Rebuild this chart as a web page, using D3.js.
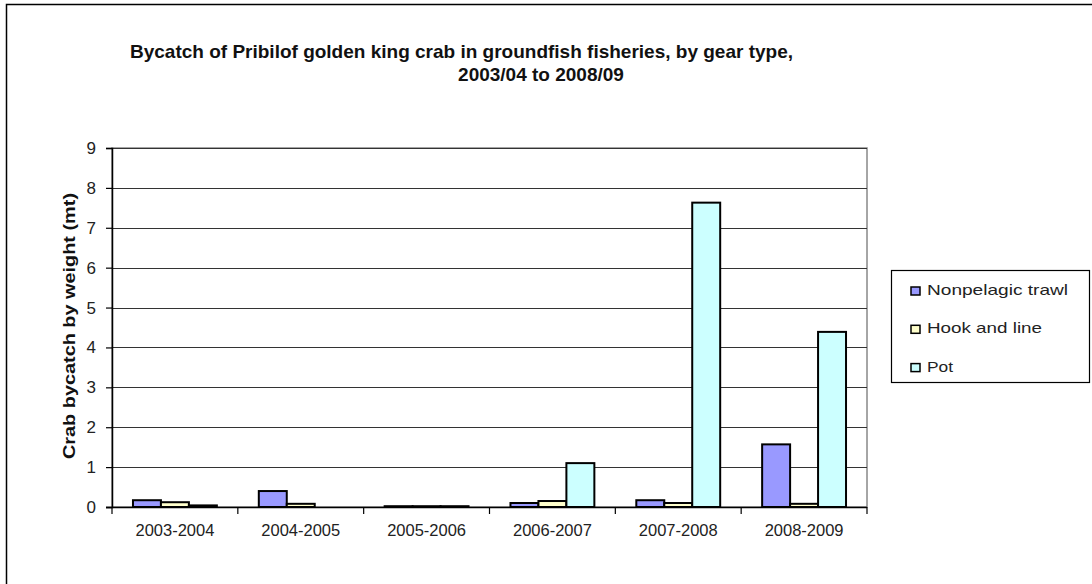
<!DOCTYPE html>
<html>
<head>
<meta charset="utf-8">
<script src="https://cdn.jsdelivr.net/npm/d3@7"></script>
<style>
  body { margin: 0; background: #fff; }
  text { font-family: Arial, "Liberation Sans", sans-serif; }
</style>
</head>
<body>
<script>
// data
var seasons = ["2003-2004", "2004-2005", "2005-2006", "2006-2007", "2007-2008", "2008-2009"];
var gears = ["Nonpelagic trawl", "Hook and line", "Pot"];
var trawl = [0.17, 0.40, 0.02, 0.10, 0.17, 1.57];
var hookLine = [0.12, 0.08, 0.02, 0.15, 0.10, 0.08];
var pot = [0.04, 0.00, 0.02, 1.10, 7.63, 4.39];
var yTicks = [0, 1, 2, 3, 4, 5, 6, 7, 8, 9];
var colors = ["#9999ff", "#ffffcc", "#ccffff"];

var W = 1092, H = 584;
var plot = {left: 112, right: 867, top: 148, bottom: 507};

var svg = d3.select("body").append("svg")
    .attr("width", W)
    .attr("height", H);

// outer chart border
svg.append("rect")
    .attr("x", 6.5).attr("y", 4.5)
    .attr("width", W + 10).attr("height", H + 10)
    .attr("fill", "#fff")
    .attr("stroke", "#000")
    .attr("stroke-width", 1.5);

var x = d3.scaleBand().domain(seasons).range([plot.left, plot.right]);
var inner = d3.scaleBand().domain(gears)
    .range([x.bandwidth() * 0.1667, x.bandwidth() * 0.8333]);
var y = d3.scaleLinear().domain([0, 9]).range([plot.bottom, plot.top]);
var color = d3.scaleOrdinal().domain(gears).range(colors);

// plot area border (top/right grey)
svg.append("rect")
    .attr("x", plot.left).attr("y", plot.top)
    .attr("width", plot.right - plot.left).attr("height", plot.bottom - plot.top)
    .attr("fill", "none")
    .attr("stroke", "#888")
    .attr("stroke-width", 1.5);

// gridlines
svg.append("g")
    .selectAll("line")
    .data(yTicks.slice(1))
    .enter().append("line")
    .attr("x1", plot.left).attr("x2", plot.right)
    .attr("y1", function(d){ return Math.round(y(d)) + 0.5; })
    .attr("y2", function(d){ return Math.round(y(d)) + 0.5; })
    .attr("stroke", "#333")
    .attr("stroke-width", 1.2);

// bars
var rows = seasons.map(function(s, i){
    return [
        {season: s, gear: gears[0], v: trawl[i]},
        {season: s, gear: gears[1], v: hookLine[i]},
        {season: s, gear: gears[2], v: pot[i]}
    ];
});

svg.append("g")
    .selectAll("g")
    .data(rows)
    .enter().append("g")
    .attr("transform", function(d){ return "translate(" + x(d[0].season) + ",0)"; })
    .selectAll("rect")
    .data(function(d){ return d.filter(function(e){ return e.v > 0; }); })
    .enter().append("rect")
    .attr("x", function(d){ return inner(d.gear); })
    .attr("width", inner.bandwidth())
    .attr("y", function(d){ return y(d.v); })
    .attr("height", function(d){ return y(0) - y(d.v); })
    .attr("fill", function(d){ return color(d.gear); })
    .attr("stroke", "#000")
    .attr("stroke-width", 2);

// y axis
var yAxis = svg.append("g")
    .attr("transform", "translate(" + plot.left + ",0)")
    .call(d3.axisLeft(y).tickValues(yTicks).tickSize(6).tickPadding(10).tickFormat(d3.format("d")));
yAxis.select(".domain").attr("stroke", "#000").attr("stroke-width", 1.5);
yAxis.selectAll(".tick line").attr("stroke", "#000").attr("stroke-width", 1.2);
yAxis.selectAll("text")
    .attr("font-size", 17).attr("fill", "#222")
    .attr("font-family", "Arial, 'Liberation Sans', sans-serif");

// x axis
var xAxis = svg.append("g")
    .attr("transform", "translate(0," + plot.bottom + ")")
    .call(d3.axisBottom(x).tickSize(0).tickPadding(17));
xAxis.select(".domain").remove();
xAxis.append("line")
    .attr("x1", plot.left - 6).attr("x2", plot.right)
    .attr("y1", 0.5).attr("y2", 0.5)
    .attr("stroke", "#000").attr("stroke-width", 1.5);
xAxis.selectAll(".sep")
    .data(seasons.concat(["end"]))
    .enter().append("line")
    .attr("x1", function(d, i){ return plot.left + i * x.step(); })
    .attr("x2", function(d, i){ return plot.left + i * x.step(); })
    .attr("y1", 0).attr("y2", 7)
    .attr("stroke", "#000").attr("stroke-width", 1.2);
xAxis.selectAll(".tick text")
    .attr("font-size", 16.5).attr("fill", "#222")
    .attr("font-family", "Arial, 'Liberation Sans', sans-serif");

// y axis title
svg.append("text")
    .attr("transform", "translate(75,326) rotate(-90)")
    .attr("text-anchor", "middle")
    .attr("font-size", 17)
    .attr("font-weight", "bold")
    .attr("fill", "#111")
    .attr("textLength", 266).attr("lengthAdjust", "spacingAndGlyphs")
    .text("Crab bycatch by weight  (mt)");

// title
svg.append("text")
    .attr("x", 130).attr("y", 58)
    .attr("font-size", 19)
    .attr("font-weight", "bold")
    .attr("fill", "#111")
    .text("Bycatch of Pribilof golden king crab in groundfish fisheries, by gear type,");
svg.append("text")
    .attr("x", 541).attr("y", 81)
    .attr("text-anchor", "middle")
    .attr("font-size", 19)
    .attr("font-weight", "bold")
    .attr("fill", "#111")
    .text("2003/04 to 2008/09");

// legend
var legend = svg.append("g").attr("transform", "translate(891,270)");
legend.append("rect")
    .attr("x", 0.5).attr("y", 0.5)
    .attr("width", 198).attr("height", 112)
    .attr("fill", "#fff")
    .attr("stroke", "#000")
    .attr("stroke-width", 1.2);
var legendLen = [141, 115, 26];
var item = legend.selectAll(".item")
    .data(gears)
    .enter().append("g")
    .attr("transform", function(d, i){ return "translate(20," + (25 + i * 38.3) + ")"; });
item.append("rect")
    .attr("x", 0).attr("y", -8)
    .attr("width", 9).attr("height", 8)
    .attr("fill", function(d){ return color(d); })
    .attr("stroke", "#000")
    .attr("stroke-width", 1.5);
item.append("text")
    .attr("x", 16).attr("y", 0)
    .attr("font-size", 15)
    .attr("fill", "#222")
    .attr("textLength", function(d, i){ return legendLen[i]; })
    .attr("lengthAdjust", "spacingAndGlyphs")
    .text(function(d){ return d; });
</script>
</body>
</html>
